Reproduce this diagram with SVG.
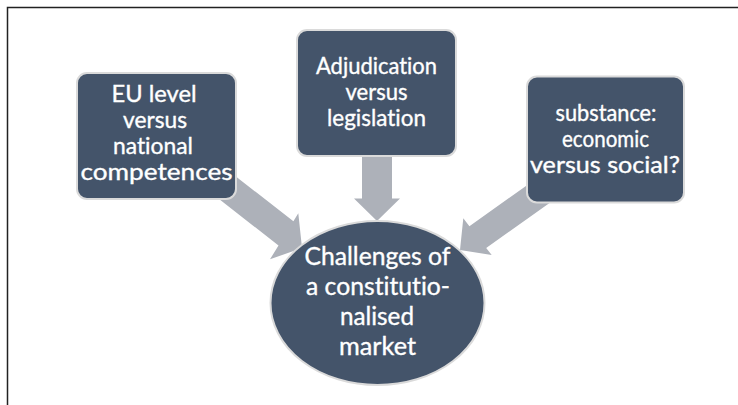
<svg xmlns="http://www.w3.org/2000/svg" width="738" height="405" viewBox="0 0 738 405">
<style>
.node{fill:#44546A;stroke:#dadada;stroke-width:2}
.arrow{fill:#ADB1B9}
.t{font-family:Lato,"Open Sans","Liberation Sans",sans-serif;fill:#ffffff;stroke:#ffffff;stroke-width:0.35;text-anchor:middle;font-variant-ligatures:none;font-feature-settings:"liga" 0,"clig" 0}
.bt{font-size:23px}
.ct{font-size:25px}
</style>
<rect width="738" height="405" fill="#ffffff"/>
<path d="M7.5,406 V7.5 H740" fill="none" stroke="#222222" stroke-width="1.5"/>
<g id="connectors">
<polygon class="arrow" points="225,168 293.4,221.3 298.3,213.3 302,248 270,259.3 278.5,245.5 205,188"/>
<polygon class="arrow" points="362,150 392,150 392,198.5 400,198.5 377,221 354,198.5 362,198.5"/>
<polygon class="arrow" points="545,172.5 469.4,226.2 463.3,218.3 460,250 491.7,255 486.2,247.9 565,192"/>
</g>
<g id="node-eu-level">
<rect class="node" x="77" y="73" width="159" height="126" rx="10"/>
<text class="t bt" x="154" y="102" textLength="85" lengthAdjust="spacingAndGlyphs">EU level</text>
<text class="t bt" x="155" y="128" textLength="64" lengthAdjust="spacingAndGlyphs">versus</text>
<text class="t bt" x="153" y="154" textLength="80" lengthAdjust="spacingAndGlyphs">national</text>
<text class="t bt" x="156.5" y="180" textLength="152" lengthAdjust="spacingAndGlyphs">competences</text>
</g>
<g id="node-adjudication">
<rect class="node" x="297" y="30" width="159" height="126" rx="10"/>
<text class="t bt" x="376.5" y="74" textLength="121" lengthAdjust="spacingAndGlyphs">Adjudication</text>
<text class="t bt" x="376.5" y="100" textLength="62" lengthAdjust="spacingAndGlyphs">versus</text>
<text class="t bt" x="376.5" y="126" textLength="99" lengthAdjust="spacingAndGlyphs">legislation</text>
</g>
<g id="node-substance">
<rect class="node" x="527" y="76.5" width="157" height="126" rx="10"/>
<text class="t bt" x="606" y="121" textLength="101" lengthAdjust="spacingAndGlyphs">substance:</text>
<text class="t bt" x="605.5" y="147" textLength="87" lengthAdjust="spacingAndGlyphs">economic</text>
<text class="t bt" x="605" y="173" textLength="150" lengthAdjust="spacingAndGlyphs">versus social?</text>
</g>
<g id="node-challenges">
<ellipse class="node" cx="377.5" cy="303" rx="107" ry="82"/>
<text class="t ct" x="377.5" y="265" textLength="146" lengthAdjust="spacingAndGlyphs">Challenges of</text>
<text class="t ct" x="378" y="295" textLength="144" lengthAdjust="spacingAndGlyphs">a constitutio-</text>
<text class="t ct" x="377" y="325" textLength="74" lengthAdjust="spacingAndGlyphs">nalised</text>
<text class="t ct" x="377.5" y="355" textLength="77" lengthAdjust="spacingAndGlyphs">market</text>
</g>
</svg>
